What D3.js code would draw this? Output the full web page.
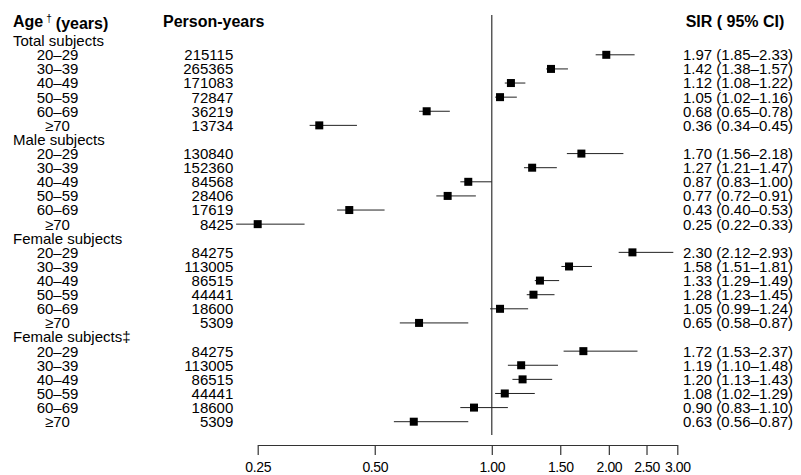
<!DOCTYPE html>
<html>
<head>
<meta charset="utf-8">
<script src="https://cdn.jsdelivr.net/npm/d3@7"></script>
<style>
  body { margin: 0; background: #fff; }
  svg text { font-family: "Liberation Sans", Arial, sans-serif; fill: #000; }
</style>
</head>
<body>
<svg id="chart" width="801" height="475"></svg>
<script>
/**
 * Data.
 */
const groups = ['Total subjects', 'Male subjects', 'Female subjects', 'Female subjects\u2021'];
const ageBands = ['20\u201329', '30\u201339', '40\u201349', '50\u201359', '60\u201369', '\u226570'];
const personYears = [
    [215115, 265365, 171083, 72847, 36219, 13734],
    [130840, 152360, 84568, 28406, 17619, 8425],
    [84275, 113005, 86515, 44441, 18600, 5309],
    [84275, 113005, 86515, 44441, 18600, 5309]
];
const sir = [
    [1.97, 1.42, 1.12, 1.05, 0.68, 0.36],
    [1.70, 1.27, 0.87, 0.77, 0.43, 0.25],
    [2.30, 1.58, 1.33, 1.28, 1.05, 0.65],
    [1.72, 1.19, 1.20, 1.08, 0.90, 0.63]
];
const ciLow = [
    [1.85, 1.38, 1.08, 1.02, 0.65, 0.34],
    [1.56, 1.21, 0.83, 0.72, 0.40, 0.22],
    [2.12, 1.51, 1.29, 1.23, 0.99, 0.58],
    [1.53, 1.10, 1.13, 1.02, 0.83, 0.56]
];
const ciHigh = [
    [2.33, 1.57, 1.22, 1.16, 0.78, 0.45],
    [2.18, 1.47, 1.00, 0.91, 0.53, 0.33],
    [2.93, 1.81, 1.49, 1.45, 1.24, 0.87],
    [2.37, 1.48, 1.43, 1.29, 1.10, 0.87]
];
const tickValues = [0.25, 0.5, 1, 1.5, 2, 2.5, 3];

/**
 * Layout.
 */
const fontSize = 15,
    headerSize = 16,
    tickFontSize = 14,
    markerSize = 8,
    headerY = 21,
    refTop = 15, refBottom = 435,
    axisY = 445;

// Flatten into rows: a group heading followed by its age bands
const rows = [];
groups.forEach((g, gi) => {
    rows.push({ type: 'group', label: g });
    ageBands.forEach((a, ai) => {
        rows.push({
            type: 'item', label: a,
            py: personYears[gi][ai], est: sir[gi][ai], lo: ciLow[gi][ai], hi: ciHigh[gi][ai]
        });
    });
});

const svg = d3.select('#chart');

const xScale = d3.scaleLog().domain([0.25, 3]).range([257.7, 677.3]);
const yScale = d3.scaleLinear().domain([0, rows.length - 1]).range([40.7, 421.7]);
const fmt = d3.format('.2f');

// Headers
const age = svg.append('text').attr('x', 13).attr('y', headerY).attr('dy', '0.36em')
    .attr('font-size', headerSize).attr('font-weight', 'bold');
age.append('tspan').text('Age');
age.append('tspan').attr('font-size', 10).attr('font-weight', 'normal').attr('dy', '-0.45em').attr('dx', 3).text('\u2020');
age.append('tspan').attr('dy', '0.45em').attr('dx', 4).text('(years)');

svg.append('text').attr('x', 163).attr('y', headerY).attr('dy', '0.36em')
    .attr('font-size', headerSize).attr('font-weight', 'bold').text('Person-years');

svg.append('text').attr('x', 735).attr('y', headerY).attr('dy', '0.36em')
    .attr('text-anchor', 'middle')
    .attr('font-size', headerSize).attr('font-weight', 'bold').text('SIR ( 95% CI)');

// Reference line at SIR = 1
svg.append('line')
    .attr('x1', xScale(1)).attr('x2', xScale(1))
    .attr('y1', refTop).attr('y2', refBottom)
    .attr('stroke', '#333').attr('stroke-width', 1.2);

// Rows
const row = svg.selectAll('.row').data(rows).enter().append('g')
    .attr('class', 'row')
    .attr('transform', (d, i) => 'translate(0,' + yScale(i) + ')');

row.append('text')
    .attr('x', d => d.type === 'group' ? 13 : 57.5)
    .attr('text-anchor', d => d.type === 'group' ? 'start' : 'middle')
    .attr('dy', '0.36em')
    .attr('font-size', fontSize)
    .text(d => d.label);

const items = row.filter(d => d.type === 'item');

items.append('text')
    .attr('x', 233.3).attr('text-anchor', 'end').attr('dy', '0.36em')
    .attr('font-size', fontSize)
    .text(d => d.py);

items.append('text')
    .attr('x', 683).attr('dy', '0.36em')
    .attr('font-size', fontSize)
    .text(d => fmt(d.est) + ' (' + fmt(d.lo) + '\u2013' + fmt(d.hi) + ')');

items.append('line')
    .attr('x1', d => xScale(d.lo)).attr('x2', d => xScale(d.hi))
    .attr('stroke', '#222').attr('stroke-width', 1);

items.append('rect')
    .attr('x', d => xScale(d.est) - markerSize / 2)
    .attr('y', -markerSize / 2)
    .attr('width', markerSize).attr('height', markerSize)
    .attr('fill', '#000');

// Axis
const axis = svg.append('g')
    .attr('transform', 'translate(0,' + axisY + ')')
    .call(d3.axisBottom(xScale).tickValues(tickValues).tickFormat(fmt)
        .tickSize(10).tickPadding(7).tickSizeOuter(0));
axis.select('.domain').attr('stroke', '#333').attr('stroke-width', 1.2);
axis.selectAll('.tick line').attr('stroke', '#333').attr('stroke-width', 1.2);
axis.selectAll('.tick text')
    .attr('font-size', tickFontSize)
    .attr('letter-spacing', '-0.4px')
    .attr('font-family', '"Liberation Sans", Arial, sans-serif')
    .attr('fill', '#000');
</script>
</body>
</html>
